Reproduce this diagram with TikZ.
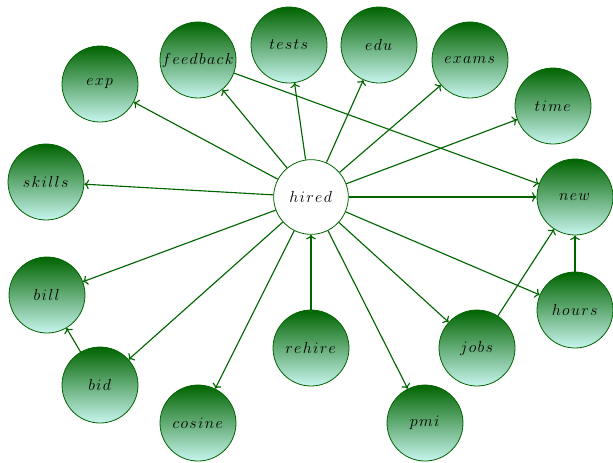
\documentclass[tikz,border=0pt]{standalone}
\usetikzlibrary{arrows.meta}
\definecolor{dg}{RGB}{0,100,0}
\definecolor{lc}{RGB}{200,245,238}
\def\spw#1{$\mkern0.75mu\spwloop#1\relax$}
\def\spwloop#1{\ifx#1\relax\else#1\mkern1.5mu\expandafter\spwloop\fi}
\begin{document}
\begin{tikzpicture}[x=0.75pt,y=-0.75pt,
  gn/.style={circle,draw=dg,line width=0.6pt,minimum size=57pt,inner sep=0pt,top color=dg,bottom color=lc,font=\fontsize{12.5}{14}\selectfont},
  cn/.style={circle,draw=dg,line width=0.6pt,minimum size=56pt,inner sep=0pt,fill=white,font=\fontsize{12.5}{14}\selectfont},
  ar/.style={->,draw=dg,line width=0.85pt}]
\useasboundingbox (0,0) rectangle (613,462);
\node[cn] (hired) at (311,197) {\spw{hired}};
\node[gn] (exp) at (100,84) {\spw{exp}};
\node[gn] (feedback) at (198,60) {\spw{feedback}};
\node[gn] (tests) at (289,45) {\spw{tests}};
\node[gn] (edu) at (379,45) {\spw{edu}};
\node[gn] (exams) at (470,60) {\spw{exams}};
\node[gn] (time) at (553,106) {\spw{time}};
\node[gn] (skills) at (46,182) {\spw{skills}};
\node[gn] (new) at (575,197) {\spw{new}};
\node[gn] (bill) at (47,295) {\spw{bill}};
\node[gn] (bid) at (100,385) {\spw{bid}};
\node[gn] (cosine) at (198,423) {\spw{cosine}};
\node[gn] (rehire) at (311,348) {\spw{rehire}};
\node[gn] (pmi) at (425,423) {\spw{pmi}};
\node[gn] (jobs) at (477,348) {\spw{jobs}};
\node[gn] (hours) at (575,310) {\spw{hours}};
\foreach \t in {exp,feedback,tests,edu,exams,time,skills,new,bill,bid,cosine,pmi,jobs,hours}
  \draw[ar] (hired) -- (\t);
\draw[ar] (rehire) -- (hired);
\draw[ar] (feedback) -- (new);
\draw[ar] (jobs) -- (new);
\draw[ar] (hours) -- (new);
\draw[ar] (bid) -- (bill);
\end{tikzpicture}
\end{document}
